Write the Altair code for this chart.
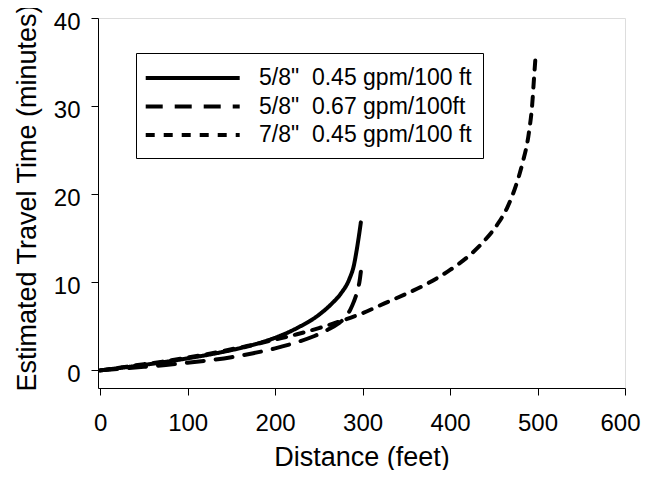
import altair as alt
import pandas as pd

series = ['5/8"\u00a0 0.45 gpm/100 ft', '5/8"\u00a0 0.67 gpm/100ft', '7/8"\u00a0 0.45 gpm/100 ft']

solid_x = [0, 25, 50, 75, 100, 125, 150, 175, 200, 225, 250, 265, 275, 285, 290, 293, 296, 298]
solid_t = [0, 0.3, 0.62, 0.97, 1.37, 1.8, 2.3, 2.9, 3.7, 4.8, 6.3, 7.6, 8.7, 10.4, 11.9, 13.5, 15.4, 16.8]

long_x = [0, 25, 50, 75, 100, 125, 150, 175, 200, 225, 245, 260, 272, 280, 286, 290, 294, 296.5, 298]
long_t = [0, 0.2, 0.4, 0.62, 0.87, 1.15, 1.5, 1.95, 2.5, 3.2, 3.9, 4.6, 5.3, 6.0, 6.9, 7.8, 9.0, 10.1, 11.2]

short_x = [0, 25, 50, 75, 100, 125, 150, 175, 200, 225, 250, 275, 300, 325, 350, 375, 400, 425,
           440, 455, 465, 475, 483, 490, 494, 496, 498]
short_t = [0, 0.35, 0.7, 1.05, 1.45, 1.9, 2.4, 2.9, 3.5, 4.1, 4.8, 5.6, 6.5, 7.6, 8.7, 9.9, 11.4, 13.3,
           14.8, 16.7, 18.4, 20.9, 23.6, 26.9, 30.3, 33.2, 36.0]

x_ticks = [0, 100, 200, 300, 400, 500, 600]
y_ticks = [0, 10, 20, 30, 40]
dash_styles = [[1, 0], [17, 12], [9, 9]]

rows = []
for name, xs, ts in [(series[0], solid_x, solid_t), (series[1], long_x, long_t), (series[2], short_x, short_t)]:
    for xv, tv in zip(xs, ts):
        rows.append({"series": name, "distance": xv, "time": tv})
df = pd.DataFrame(rows)

FONT = "Liberation Sans"

chart = alt.Chart(df).mark_line(
    strokeWidth=4, strokeCap="round", strokeJoin="round", color="black", interpolate="monotone"
).encode(
    x=alt.X("distance:Q",
            scale=alt.Scale(domain=[-2.5, 600], nice=False, zero=False),
            axis=alt.Axis(values=x_ticks, title="Distance (feet)", grid=False, labelFlush=False,
                          labelOffset={"condition": {"test": "datum.value === 600", "value": -5}, "value": 0},
                          labelFont=FONT, labelFontSize=24, labelColor="black",
                          labelPadding=16, tickSize=7, tickColor="black", domainColor="black",
                          titleFont=FONT, titleFontSize=27, titleFontWeight="normal", titleColor="black",
                          titleY=77, titleBaseline="alphabetic")),
    y=alt.Y("time:Q",
            scale=alt.Scale(domain=[-2, 40], nice=False, zero=False),
            axis=alt.Axis(values=y_ticks, title="Estimated Travel Time (minutes)", grid=False,
                          labelFlush=False, labelOffset=4,
                          labelFont=FONT, labelFontSize=24, labelColor="black",
                          labelPadding=11, tickSize=7, tickColor="black", domainColor="black",
                          titleFont=FONT, titleFontSize=27, titleFontWeight="normal", titleColor="black",
                          titleX=-63, titleY=179.5, titleAngle=270, titleAlign="center",
                          titleBaseline="alphabetic")),
    strokeDash=alt.StrokeDash("series:N",
                              scale=alt.Scale(domain=series, range=dash_styles),
                              legend=alt.Legend(title=None, orient="none", legendX=38, legendY=35,
                                                symbolType="M-4,0H4", symbolSize=552,
                                                symbolStrokeWidth=4, symbolStrokeColor="black",
                                                symbolOffset=31.7, labelOffset=52.3,
                                                labelFont=FONT, labelFontSize=23, labelColor="black",
                                                labelLimit=400, padding=11, rowPadding=2.5,
                                                strokeColor="black")),
).properties(
    width=527, height=370,
    autosize=alt.AutoSizeParams(type="none"),
    padding={"left": 90, "top": 10, "right": 16, "bottom": 82},
).configure_view(
    stroke="#444", strokeWidth=1
).configure(background="white")

chart.save("out.html", embed_options={"renderer": "svg", "actions": False})
